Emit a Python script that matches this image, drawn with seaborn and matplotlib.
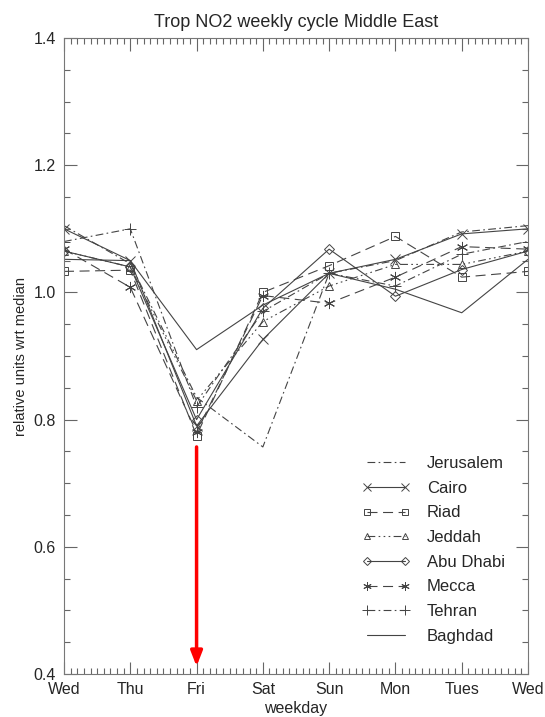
import matplotlib
matplotlib.use("Agg")
import matplotlib.pyplot as plt
from matplotlib.ticker import MultipleLocator
import seaborn as sns
import pandas as pd

days = ["Wed", "Thu", "Fri", "Sat", "Sun", "Mon", "Tues", "Wed"]
cities = ["Jerusalem", "Cairo", "Riad", "Jeddah", "Abu Dhabi", "Mecca", "Tehran", "Baghdad"]

jerusalem = [1.105, 1.045, 0.835, 0.757, 1.030, 1.050, 1.095, 1.105]
cairo     = [1.100, 1.050, 0.790, 0.926, 1.030, 1.052, 1.092, 1.100]
riad      = [1.033, 1.035, 0.775, 1.000, 1.042, 1.088, 1.024, 1.033]
jeddah    = [1.065, 1.040, 0.830, 0.954, 1.010, 1.044, 1.044, 1.065]
abu_dhabi = [1.065, 1.040, 0.800, 0.975, 1.068, 0.994, 1.036, 1.065]
mecca     = [1.068, 1.008, 0.780, 0.995, 0.983, 1.024, 1.072, 1.068]
tehran    = [1.080, 1.100, 0.820, 0.970, 1.030, 1.010, 1.060, 1.080]
baghdad   = [1.052, 1.050, 0.910, 0.980, 1.030, 1.005, 0.968, 1.052]

series = [jerusalem, cairo, riad, jeddah, abu_dhabi, mecca, tehran, baghdad]

rows = []
for c, vals in zip(cities, series):
    for i, v in enumerate(vals):
        rows.append({"city": c, "pos": i, "val": v})
df = pd.DataFrame(rows)

styles = {
    "Jerusalem": dict(linestyle=(0, (7, 3, 1.5, 3)), marker=None),
    "Cairo": dict(linestyle="-", marker="x"),
    "Riad": dict(linestyle=(0, (9, 5)), marker="s"),
    "Jeddah": dict(linestyle=(0, (7, 3, 1.5, 3, 1.5, 3, 1.5, 3)), marker="^"),
    "Abu Dhabi": dict(linestyle="-", marker="D"),
    "Mecca": dict(linestyle=(0, (9, 5)), marker=(6, 2, 0)),
    "Tehran": dict(linestyle=(0, (7, 3, 1.5, 3)), marker="+"),
    "Baghdad": dict(linestyle="-", marker=None),
}
msize = {"Cairo": 7, "Riad": 6, "Jeddah": 6, "Abu Dhabi": 5, "Mecca": 8, "Tehran": 9}

sns.set_style("ticks")
plt.rcParams["font.family"] = ["Liberation Sans", "DejaVu Sans"]

fig = plt.figure(figsize=(5.45, 7.17), dpi=100)
ax = fig.add_axes([64 / 545, 1 - 674 / 717, (528 - 64) / 545, (674 - 38) / 717])

col = "#444444"
for c in cities:
    st = styles[c]
    sns.lineplot(data=df[df.city == c], x="pos", y="val", ax=ax, color=col,
                 linewidth=0.8, linestyle=st["linestyle"], marker=st["marker"],
                 markersize=msize.get(c, 6), markerfacecolor="none",
                 markeredgecolor=col, markeredgewidth=0.7, label=c,
                 estimator=None, sort=False)

ax.annotate("", xy=(2, 0.412), xytext=(2, 0.757),
            arrowprops=dict(arrowstyle="-|>,head_length=0.9,head_width=0.35",
                            color="red", lw=2.5, shrinkA=0, shrinkB=0))

ax.set_xlim(0, 7)
ax.set_ylim(0.4, 1.4)
ax.set_xticks(range(8))
ax.set_xticklabels(days)
ax.xaxis.set_minor_locator(MultipleLocator(0.1))
ax.yaxis.set_major_locator(MultipleLocator(0.2))
ax.yaxis.set_minor_locator(MultipleLocator(0.05))
ax.set_yticklabels([f"{v:.1f}" for v in ax.get_yticks()])
ax.tick_params(which="both", direction="in", top=True, right=True,
               color="#666666", labelsize=11.5, width=0.8)
ax.tick_params(which="major", length=9, pad=6)
ax.tick_params(which="minor", length=4)
for s in ax.spines.values():
    s.set_color("#777777")
    s.set_linewidth(0.8)

ax.set_xlabel("weekday", fontsize=11.5, labelpad=3)
ax.set_ylabel("relative units wrt median", fontsize=10.5, labelpad=4)
ax.set_title("Trop NO2 weekly cycle Middle East", fontsize=13, pad=8)

leg = ax.legend(loc="lower right", bbox_to_anchor=(0.982, 0.024), frameon=False,
                fontsize=12, handlelength=2.9, handletextpad=1.0,
                labelspacing=0.58, numpoints=2, markerscale=0.75)

fig.savefig("out.png", dpi=100)
